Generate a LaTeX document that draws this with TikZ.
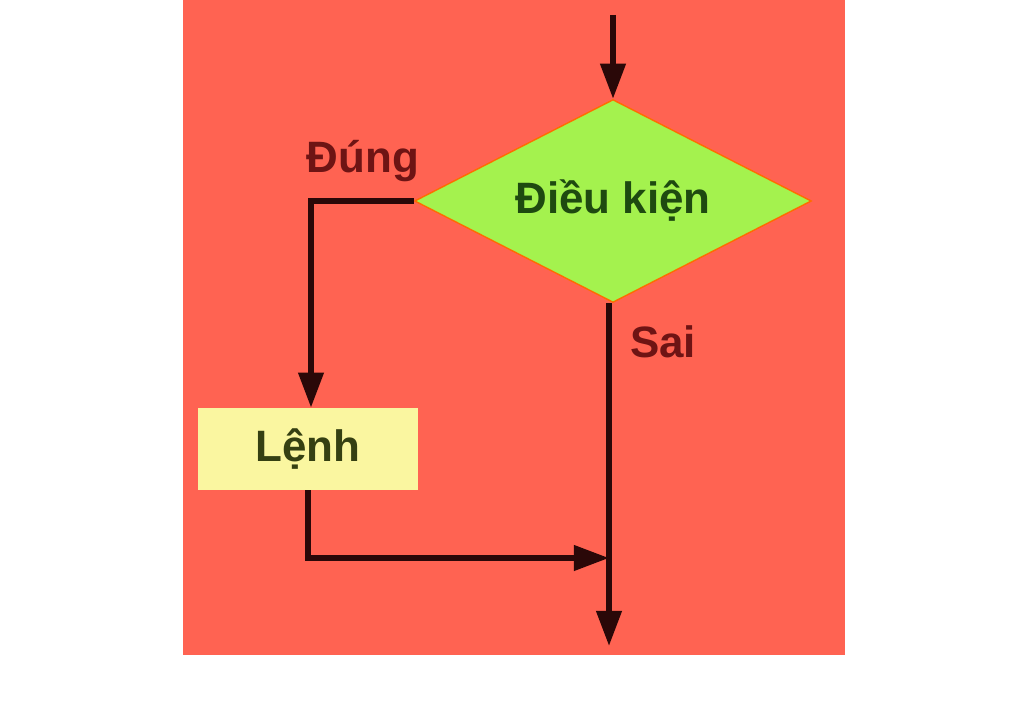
\documentclass[tikz,border=0pt]{standalone}
\usepackage{fontspec}
\setmainfont{Liberation Sans}
\usetikzlibrary{shapes.geometric,arrows.meta}
\definecolor{bgred}{HTML}{FF6352}
\definecolor{dgreen}{HTML}{A4F24E}
\definecolor{pyellow}{HTML}{FAF6A0}
\definecolor{lineblk}{HTML}{2A0808}
\definecolor{txtred}{HTML}{6E1414}
\definecolor{txtgreen}{HTML}{1E4A10}
\definecolor{txtolive}{HTML}{354012}
\begin{document}
\begin{tikzpicture}[x=0.02cm,y=-0.02cm,
  flow/.style={draw=lineblk,line width=3.2pt,-{Triangle[length=20pt,width=14pt]}},
  lbl/.style={font=\fontsize{25}{30}\selectfont\bfseries,text=txtred},
  decision/.style={diamond,fill=dgreen,draw=orange!85!red,line width=0.8pt,inner sep=0pt,
     minimum width=7.94cm,minimum height=4.06cm,aspect=1.96,
     font=\fontsize{25}{30}\selectfont\bfseries,text=txtgreen},
  process/.style={rectangle,fill=pyellow,inner sep=0pt,minimum width=4.4cm,minimum height=1.64cm,
     font=\fontsize{25}{30}\selectfont\bfseries,text=txtolive}]
\useasboundingbox (0,0) rectangle (1024,716);
\fill[white] (0,0) rectangle (1024,716);
\fill[bgred] (183,-5) rectangle (845,655);
\node[decision] (dia) at (613,201) {Điều kiện};
\node[process] (box) at (308,449) {Lệnh};
\node[lbl] (dung) at (363,161) {Đúng};
\node[lbl] (sai) at (663,342) {Sai};
\coordinate (start) at (613,15);
\coordinate (join) at (609,558);
\coordinate (stop) at (609,646);
\draw[flow] (start) -- (dia.north);
\draw[flow] (dia.west) -- (311,201) -- (box.north -| 311,0);
\draw[flow] (box.south) -- (box.south |- join) -- (join);
\draw[flow] (dia.south -| join) -- (stop);
\end{tikzpicture}
\end{document}
